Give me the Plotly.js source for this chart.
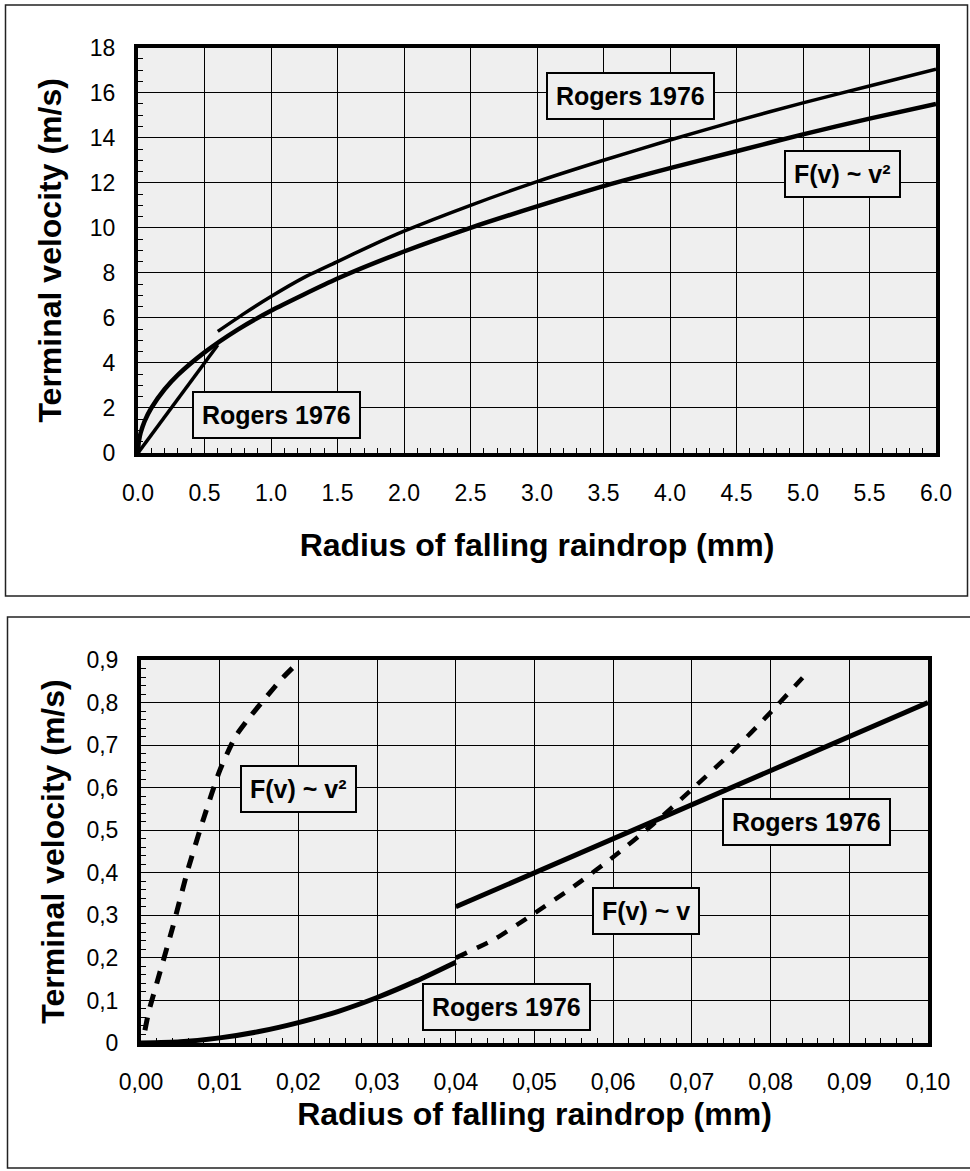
<!DOCTYPE html>
<html>
<head>
<meta charset="utf-8">
<script src="https://cdn.plot.ly/plotly-3.0.1.min.js"></script>
<style>html,body{margin:0;padding:0;background:#fff;}#chart{width:970px;height:1171px;}</style>
</head>
<body>
<div id="chart"></div>
<script>
// ---------- Top chart data (radius in mm, velocity in m/s) ----------
const topRogersSmallR = [0, 0.1, 0.2, 0.3, 0.4, 0.5, 0.6];
const topRogersSmallV = [0, 0.8, 1.6, 2.4, 3.2, 4.0, 4.8];

const topRogersLargeR = [0.6, 0.8, 1.0, 1.25, 1.5, 1.75, 2.0, 2.5, 3.0, 3.5, 4.0, 4.5, 5.0, 5.5, 6.0];
const topRogersLargeV = [5.4, 6.2, 6.95, 7.8, 8.5, 9.2, 9.85, 11.0, 12.05, 13.0, 13.9, 14.75, 15.55, 16.3, 17.05];

const topQuadR = [0, 0.005, 0.01, 0.02, 0.05, 0.1, 0.2, 0.3, 0.5, 0.75, 1.0, 1.5, 2.0, 2.5, 3.0, 3.5, 4.0, 4.5, 5.0, 5.5, 6.0];
const topQuadV = [0, 0.45, 0.63, 0.9, 1.42, 2.0, 2.83, 3.47, 4.47, 5.48, 6.32, 7.75, 8.95, 10.0, 10.95, 11.85, 12.65, 13.4, 14.15, 14.85, 15.5];

const topXTickVals = [0, 0.5, 1, 1.5, 2, 2.5, 3, 3.5, 4, 4.5, 5, 5.5, 6];
const topXTickText = ["0.0", "0.5", "1.0", "1.5", "2.0", "2.5", "3.0", "3.5", "4.0", "4.5", "5.0", "5.5", "6.0"];
const topYTickVals = [0, 2, 4, 6, 8, 10, 12, 14, 16, 18];
const topYTickText = ["0", "2", "4", "6", "8", "10", "12", "14", "16", "18"];

// ---------- Bottom chart data ----------
const botQuadR = [0.0005, 0.001, 0.002, 0.004, 0.006, 0.008, 0.01, 0.012, 0.014, 0.016, 0.018, 0.02];
const botQuadV = [0.03, 0.075, 0.14, 0.27, 0.41, 0.53, 0.64, 0.72, 0.77, 0.815, 0.858, 0.895];

const botRogersSmallR = [0, 0.005, 0.01, 0.015, 0.02, 0.025, 0.03, 0.035, 0.04];
const botRogersSmallV = [0, 0.003, 0.012, 0.027, 0.048, 0.074, 0.107, 0.146, 0.19];

const botLinearR = [0.04, 0.045, 0.05, 0.055, 0.06, 0.065, 0.07, 0.075, 0.08, 0.085];
const botLinearV = [0.2, 0.245, 0.305, 0.368, 0.437, 0.513, 0.596, 0.682, 0.777, 0.877];

const botRogersMidR = [0.04, 0.05, 0.06, 0.07, 0.08, 0.09, 0.1];
const botRogersMidV = [0.32, 0.40, 0.48, 0.56, 0.64, 0.72, 0.80];

const botXTickVals = [0, 0.01, 0.02, 0.03, 0.04, 0.05, 0.06, 0.07, 0.08, 0.09, 0.1];
const botXTickText = ["0,00", "0,01", "0,02", "0,03", "0,04", "0,05", "0,06", "0,07", "0,08", "0,09", "0,10"];
const botYTickVals = [0, 0.1, 0.2, 0.3, 0.4, 0.5, 0.6, 0.7, 0.8, 0.9];
const botYTickText = ["0", "0,1", "0,2", "0,3", "0,4", "0,5", "0,6", "0,7", "0,8", "0,9"];

const labelRogers = "Rogers 1976";
const labelQuad = "F(v) ~ v²";
const labelLinear = "F(v) ~ v";
const xTitle = "Radius of falling raindrop (mm)";
const yTitle = "Terminal velocity (m/s)";

// ---------- Layout helpers ----------
const W = 970, H = 1171;
const px = v => v / W;
const py = v => 1 - v / H;
const FONT = "Liberation Sans, Arial, Helvetica, sans-serif";
const BG = "#efefef";
const black = "#000";

const traces = [
  {x: topQuadR, y: topQuadV, xaxis: "x", yaxis: "y", name: labelQuad, mode: "lines",
   line: {color: black, width: 4.5, shape: "spline", smoothing: 0.6}},
  {x: topRogersSmallR, y: topRogersSmallV, xaxis: "x", yaxis: "y", name: labelRogers + " (small)", mode: "lines",
   line: {color: black, width: 3.5}},
  {x: topRogersLargeR, y: topRogersLargeV, xaxis: "x", yaxis: "y", name: labelRogers + " (large)", mode: "lines",
   line: {color: black, width: 3.5, shape: "spline", smoothing: 0.6}},

  {x: botQuadR, y: botQuadV, xaxis: "x2", yaxis: "y2", name: labelQuad, mode: "lines",
   line: {color: black, width: 5, dash: "13px,11px", shape: "spline", smoothing: 0.6}},
  {x: botRogersSmallR, y: botRogersSmallV, xaxis: "x2", yaxis: "y2", name: labelRogers + " (small)", mode: "lines",
   line: {color: black, width: 5, shape: "spline", smoothing: 0.6}},
  {x: botLinearR, y: botLinearV, xaxis: "x2", yaxis: "y2", name: labelLinear, mode: "lines",
   line: {color: black, width: 4.5, dash: "12px,11px", shape: "spline", smoothing: 0.6}},
  {x: botRogersMidR, y: botRogersMidV, xaxis: "x2", yaxis: "y2", name: labelRogers + " (mid)", mode: "lines",
   line: {color: black, width: 5}}
];

function axisX(domain, anchor, tv, tt, range, minorDtick, lblStandoff, titleStandoff) {
  return {
    domain: domain, anchor: anchor, range: range,
    tickmode: "array", tickvals: tv, ticktext: tt,
    ticks: "inside", ticklen: 6, tickwidth: 1, tickcolor: black,
    ticklabelstandoff: lblStandoff,
    tickfont: {family: FONT, size: 23, color: black},
    showgrid: true, gridcolor: black, gridwidth: 1,
    zeroline: false,
    showline: true, linecolor: black, linewidth: 4, mirror: true,
    minor: {tickmode: "linear", tick0: 0, dtick: minorDtick, ticks: "inside", ticklen: 5,
            tickwidth: 1, tickcolor: black, showgrid: false},
    title: {text: xTitle, standoff: titleStandoff, font: {family: FONT, size: 32, color: black, weight: "bold"}},
    automargin: true, fixedrange: true
  };
}
function axisY(domain, anchor, tv, tt, range, minorDtick) {
  return {
    domain: domain, anchor: anchor, range: range,
    tickmode: "array", tickvals: tv, ticktext: tt,
    ticks: "inside", ticklen: 6, tickwidth: 1, tickcolor: black,
    ticklabelstandoff: 14,
    tickfont: {family: FONT, size: 23, color: black},
    showgrid: true, gridcolor: black, gridwidth: 1,
    zeroline: false,
    showline: true, linecolor: black, linewidth: 4, mirror: true,
    minor: {tickmode: "linear", tick0: 0, dtick: minorDtick, ticks: "inside", ticklen: 5,
            tickwidth: 1, tickcolor: black, showgrid: false},
    title: {text: yTitle, font: {family: FONT, size: 32, color: black, weight: "bold"}},
    automargin: false, fixedrange: true
  };
}

function box(text, xref, yref, x, y) {
  return {text: text, xref: xref, yref: yref, x: x, y: y, showarrow: false,
    font: {family: FONT, size: 25, color: black, weight: "bold"},
    bgcolor: BG, bordercolor: black, borderwidth: 2, borderpad: 8,
    xanchor: "center", yanchor: "middle"};
}

const layout = {
  width: W, height: H,
  margin: {l: 0, r: 0, t: 0, b: 0, autoexpand: false},
  paper_bgcolor: "#fff",
  plot_bgcolor: BG,
  showlegend: false,
  xaxis: axisX([px(138), px(936)], "y", topXTickVals, topXTickText, [0, 6], 0.1, 16, 30),
  yaxis: axisY([py(453), py(47.7)], "x", topYTickVals, topYTickText, [0, 18], 0.5),
  xaxis2: axisX([px(141), px(928)], "y2", botXTickVals, botXTickText, [0, 0.1], 0.002, 15, 10),
  yaxis2: axisY([py(1043), py(660)], "x2", botYTickVals, botYTickText, [0, 0.9], 0.02),
  annotations: [
    box(labelRogers, "x", "y", 3.70, 15.85),
    box(labelQuad, "x", "y", 5.30, 12.39),
    box(labelRogers, "x", "y", 1.04, 1.70),
    box(labelQuad, "x2", "y2", 0.01995, 0.596),
    box(labelRogers, "x2", "y2", 0.0846, 0.519),
    box(labelLinear, "x2", "y2", 0.0642, 0.310),
    box(labelRogers, "x2", "y2", 0.0465, 0.0853)
  ],
  shapes: [
    {type: "rect", xref: "paper", yref: "paper", x0: px(5.5), x1: px(967.5), y0: py(596), y1: py(5),
     line: {color: "#222", width: 1.5}, fillcolor: "rgba(0,0,0,0)", layer: "below"},
    {type: "rect", xref: "paper", yref: "paper", x0: px(7.5), x1: px(975), y0: py(1168), y1: py(617),
     line: {color: "#222", width: 1.5}, fillcolor: "rgba(0,0,0,0)", layer: "below"}
  ]
};

Plotly.newPlot("chart", traces, layout, {staticPlot: true, displayModeBar: false});
</script>
</body>
</html>
